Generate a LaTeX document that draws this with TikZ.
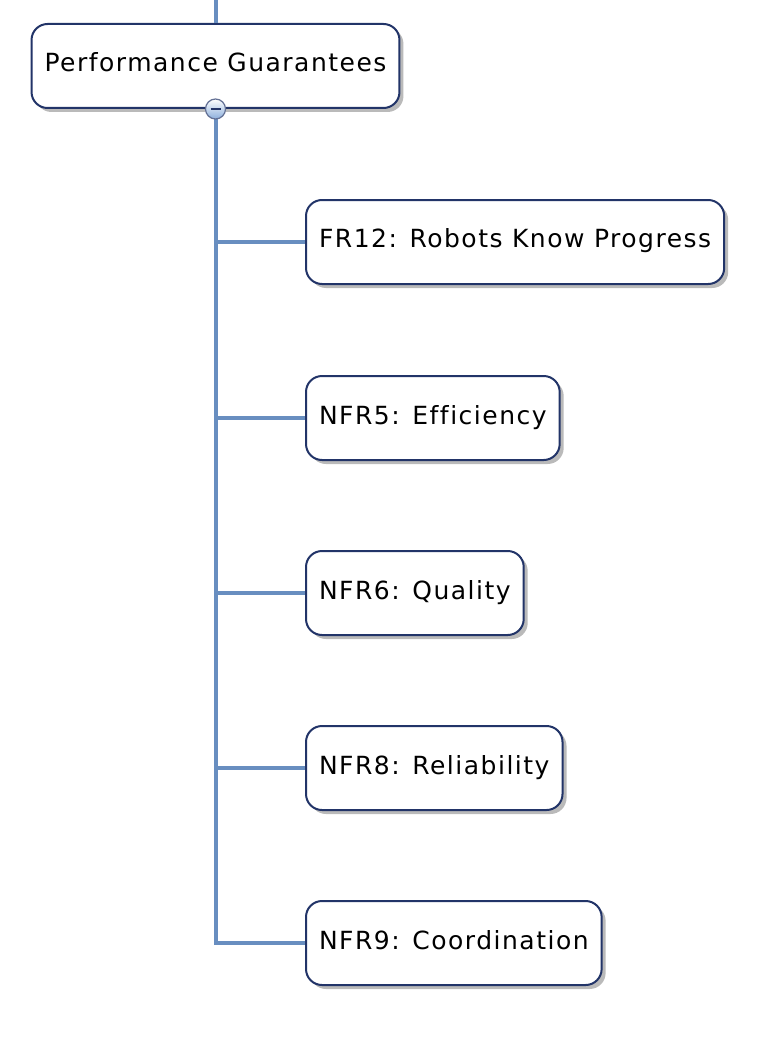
\documentclass[tikz,border=0pt]{standalone}
\usepackage{fontspec}
\setmainfont{DejaVu Sans}[LetterSpace=6, Ligatures=NoCommon]
\usetikzlibrary{shadows}

\definecolor{branchblue}{RGB}{104,142,192}
\definecolor{boxedge}{RGB}{34,52,104}
\definecolor{btnfill}{RGB}{140,175,220}

\tikzset{
  topic/.style={draw=boxedge, line width=2pt, fill=white, rounded corners=16pt,
    minimum height=84pt, inner xsep=13pt, text depth=7pt,
    font=\fontsize{25}{29}\selectfont,
    drop shadow={shadow xshift=4pt, shadow yshift=-4pt, opacity=.45, fill=black!60}},
  branch/.style={draw=branchblue, line width=4pt},
  button/.style={circle, draw=boxedge!70, line width=1.2pt, minimum size=20pt,
    inner sep=0pt, top color=white, bottom color=btnfill}
}

\begin{document}
\begin{tikzpicture}[x=1pt, y=-1pt]
  \useasboundingbox (0,0) rectangle (775,1038);

  %% main topic
  \coordinate (top) at (215.5,0);
  \coordinate (end) at (215.5,943);

  \node[topic, minimum width=367pt] (perf) at (215.5,66) {Performance Guarantees};

  %% subtopics
  \node[topic, anchor=west] (fr12) at (305,242) {FR12: Robots Know Progress};
  \node[topic, anchor=west] (nfr5) at (305,418) {NFR5: Efficiency};
  \node[topic, anchor=west] (nfr6) at (305,593) {NFR6: Quality};
  \node[topic, anchor=west] (nfr8) at (305,768) {NFR8: Reliability};
  \node[topic, anchor=west] (nfr9) at (305,943) {NFR9: Coordination};

  %% connectors
  \draw[branch] (top) -- (perf.north);
  \draw[branch] (perf.south) -- (end) -- (nfr9.west);
  \foreach \n in {fr12,nfr5,nfr6,nfr8}
    \draw[branch] (perf.south |- \n.west) -- (\n.west);

  %% collapse button
  \node[button] (btn) at (perf.south) {};
  \draw[boxedge, line width=2.5pt] ([xshift=-5pt]btn.center) -- ([xshift=5pt]btn.center);
\end{tikzpicture}
\end{document}
